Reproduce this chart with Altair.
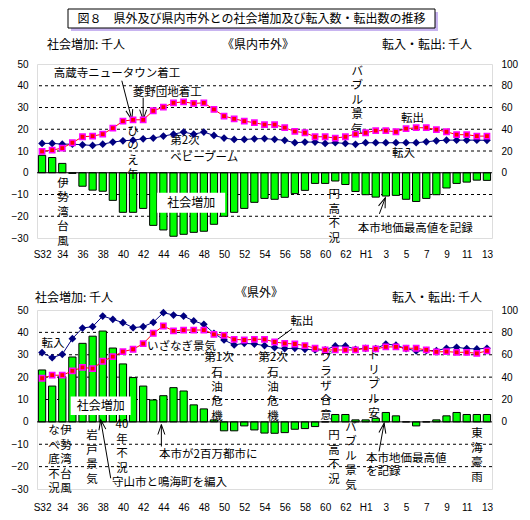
import altair as alt
import pandas as pd

FONT = "Noto Sans CJK JP"

# ---------------- data ----------------
year_labels = ["S32", "33", "34", "35", "36", "37", "38", "39", "40", "41", "42", "43", "44",
               "45", "46", "47", "48", "49", "50", "51", "52", "53", "54", "55", "56", "57",
               "58", "59", "60", "61", "62", "63", "H1", "2", "3", "4", "5", "6", "7", "8",
               "9", "10", "11", "12", "13"]

# 《県内市外》
pref_bar = [8.0, 7.0, 4.3, -0.3, -6.2, -8.0, -8.5, -12.7, -18.2, -18.2, -16.4, -24.2, -26.3,
            -29.2, -28.3, -27.4, -26.9, -23.7, -20.0, -18.2, -16.4, -13.6, -11.8, -12.2, -11.3,
            -9.6, -8.1, -4.9, -4.9, -3.8, -5.4, -8.6, -10.1, -11.2, -10.7, -10.4, -12.2, -13.2,
            -11.8, -10.1, -7.0, -4.9, -4.3, -3.4, -3.5]
pref_in = [27.0, 27.0, 26.3, 26.3, 25.7, 25.1, 26.3, 28.2, 29.4, 30.0, 31.2, 31.9, 33.7, 35.5,
           37.4, 35.5, 37.4, 34.3, 31.9, 30.6, 30.6, 31.2, 31.4, 30.7, 29.8, 27.6, 28.2, 28.2,
           27.0, 27.6, 27.0, 26.1, 27.6, 27.6, 27.6, 27.6, 27.6, 27.6, 28.5, 29.4, 30.0, 30.0,
           30.0, 30.0, 29.8]
pref_out = [19.6, 20.8, 22.7, 27.6, 33.1, 33.7, 35.5, 41.0, 47.5, 48.7, 48.7, 57.0, 60.3, 64.3,
            65.2, 63.7, 64.3, 58.2, 52.1, 49.6, 47.5, 46.0, 44.2, 44.2, 41.4, 38.0, 36.8, 33.1,
            33.1, 31.9, 33.1, 35.6, 36.8, 38.7, 38.7, 37.7, 40.5, 41.4, 41.4, 39.6, 37.7, 35.0,
            35.0, 33.7, 33.7]

# 《県外》
out_bar = [23.2, 16.0, 20.2, 29.0, 35.1, 38.3, 40.6, 33.0, 25.9, 19.8, 16.0, 9.8, 11.7, 15.3,
           13.8, 7.6, 5.8, 0.9, -4.0, -4.0, -1.8, -3.6, -5.0, -5.1, -4.8, -3.3, -3.0, -2.1, 0.0,
           3.3, 3.3, 0.9, 0.9, 1.6, 4.2, 2.7, 0.0, -1.8, 0.0, 0.9, 2.7, 4.2, 3.3, 3.3, 3.3]
out_in = [61.9, 57.4, 60.4, 74.4, 83.9, 85.1, 94.6, 91.7, 88.7, 84.2, 85.1, 89.0, 97.6, 95.5,
          94.6, 90.2, 87.2, 79.2, 73.2, 68.8, 70.2, 69.6, 68.2, 66.4, 65.5, 65.8, 64.9, 64.3,
          64.3, 67.9, 67.9, 64.9, 65.8, 65.5, 69.6, 68.5, 65.5, 63.4, 63.7, 63.7, 65.8, 66.7,
          65.5, 65.2, 65.8]
out_out = [39.0, 41.7, 41.7, 45.5, 48.8, 47.6, 54.2, 58.3, 62.8, 64.9, 69.9, 79.2, 85.7, 81.3,
           82.1, 82.1, 82.1, 78.3, 77.4, 73.8, 73.2, 73.8, 73.8, 71.4, 70.2, 69.6, 68.2, 65.8,
           64.3, 64.3, 64.3, 64.3, 65.8, 65.2, 67.0, 67.0, 65.8, 65.8, 64.3, 62.5, 62.8, 62.2,
           62.2, 61.3, 63.4]

grid_values = [-20, -10, 10, 20, 30, 40]

# annotations: (text, x in year index, y in 千人 of left axis)
top_center = [("高蔵寺ニュータウン着工", 7.42, 45.5), ("菱野団地着工", 12.37, 36.8),
              ("転出", 36.63, 24.8), ("転入", 35.74, 8.7), ("本市地価最高値を記録", 36.9, -25.7)]
top_left = [("第2次", 12.67, 14.7), ("ベビーブーム", 12.67, 6.9)]
top_vert = [(["ひ", "の", "え", "午"], 9.0, 21.6), (["伊", "勢", "湾", "台", "風"], 2.07, -2.2),
            (["バ", "ブ", "ル", "景", "気"], 31.18, 49.1), (["円", "高", "不", "況"], 28.9, -7.6)]
top_box = [("社会増加", 11.38, 18.11, -9.2, -18.4)]
top_lines = [(7.89, 42.3, 8.88, 24.4), (10.0, 34.5, 10.0, 24.4), (33.36, -18.9, 33.95, -11.5)]
top_heads = [(8.88, 24.4, 165.5), (10.0, 24.4, 180.0), (33.95, -11.5, 20.5)]

bot_center = [("転入", 1.08, 35.0), ("第1次", 17.5, 28.4), ("第2次", 22.84, 28.6),
              ("転出", 25.7, 44.8)]
bot_left = [("いざなぎ景気", 10.38, 33.6), ("守山市と鳴海町を編入", 6.92, -27.5),
            ("本市が2百万都市に", 11.57, -14.6), ("本市地価最高値", 32.04, -16.6),
            ("を記録", 32.04, -22.6)]
bot_vert = [(["石", "油", "危", "機"], 17.3, 24.4), (["石", "油", "危", "機"], 22.84, 24.4),
            (["な", "べ", "底", "不", "況"], 1.18, -1.4), (["伊", "勢", "湾", "台", "風"], 2.37, -1.4),
            (["岩", "戸", "景", "気"], 4.94, -3.7), (["40", "年", "不", "況"], 7.9, 1.1),
            (["プ", "ラ", "ザ", "合", "意"], 28.09, 31.3), (["円", "高", "不", "況"], 28.88, -3.7),
            (["バ", "ブ", "ル", "景", "気"], 30.56, 0.05), (["ト", "リ", "プ", "ル", "安"], 32.83, 32.0),
            (["東", "海", "豪", "雨"], 43.02, -2.9)]
bot_box = [("社会増加", 2.83, 8.77, 11.3, 3.1)]
bot_lines = [(6.79, -25.2, 5.8, 0.9), (11.8, -11.0, 11.8, -1.2), (33.33, -13.2, 33.83, -0.6),
             (24.72, 41.6, 23.24, 36.7)]
bot_heads = [(5.8, 0.9, 350.3), (11.8, -1.2, 0.0), (33.83, -0.6, 10.0)]

title_text = "図８　県外及び県内市外との社会増加及び転入数・転出数の推移"

# ---------------- scales / axes ----------------
xs = alt.Scale(domain=[-0.5, 44.5], nice=False, zero=False)
yL = alt.Scale(domain=[-30, 50], nice=False, zero=False)
yR = alt.Scale(domain=[-60, 100], nice=False, zero=False)
label_expr = "[" + ",".join("'%s'" % s for s in year_labels) + "][datum.value]"


def x_axis(pad):
    return alt.Axis(values=list(range(0, 45, 2)), labelExpr=label_expr, ticks=False, domain=False,
                    grid=False, labelPadding=pad, title=None, labelFlush=False)


left_axis = alt.Axis(values=list(range(-30, 51, 10)), ticks=False, domain=False, grid=False,
                     labelPadding=9, title=None, orient="left")
right_axis = alt.Axis(values=list(range(0, 101, 20)), ticks=False, domain=False, grid=False,
                      labelPadding=9, title=None, orient="right")


def build_panel(bar, inn, out, height, xpad, centers, lefts, verts, boxes, lines, heads, headers,
                with_title):
    XA = x_axis(xpad)

    def X(f):
        return alt.X(f, type="quantitative", scale=xs, axis=XA)

    def YL(f):
        return alt.Y(f, type="quantitative", scale=yL, axis=left_axis)

    def YR(f):
        return alt.Y(f, type="quantitative", scale=yR, axis=right_axis)

    df = pd.DataFrame({"i": list(range(len(year_labels))), "bar": bar, "inn": inn, "out": out})
    base = alt.Chart(df)

    grid = alt.Chart(pd.DataFrame({"g": grid_values})).mark_rule(
        color="black", strokeDash=[3, 3], strokeWidth=1).encode(y=YL("g"))
    bars = base.transform_calculate(x0="datum.i - 0.36", x1="datum.i + 0.36").mark_rect(
        color="#00FF00", stroke="black", strokeWidth=1).encode(
        x=X("x0"), x2="x1:Q", y=YL("bar"), y2=alt.datum(0))
    zero = alt.Chart(pd.DataFrame({"z": [0]})).mark_rule(color="black", strokeWidth=1).encode(
        y=YL("z"))

    bdf = pd.DataFrame(boxes, columns=["t", "x0", "x1", "y0", "y1"])
    bdf["xc"] = (bdf["x0"] + bdf["x1"]) / 2
    bdf["yc"] = (bdf["y0"] + bdf["y1"]) / 2
    box_rect = alt.Chart(bdf).mark_rect(color="white").encode(
        x=X("x0"), x2="x1:Q", y=YL("y0"), y2="y1:Q")
    box_text = alt.Chart(bdf).mark_text(font=FONT, fontSize=12, color="black").encode(
        x=X("xc"), y=YL("yc"), text="t:N")

    ldf = pd.DataFrame(lines, columns=["x0", "y0", "x1", "y1"])
    arrows = alt.Chart(ldf).mark_rule(color="black", strokeWidth=1).encode(
        x=X("x0"), y=YL("y0"), x2="x1:Q", y2="y1:Q")
    hdf = pd.DataFrame(heads, columns=["x", "y", "a"])
    heads_m = alt.Chart(hdf).mark_point(
        shape="M-0.35,1L0,0L0.35,1", filled=False, color="black", strokeWidth=1, size=400,
        opacity=1).encode(x=X("x"), y=YL("y"), angle=alt.Angle("a:Q", scale=None))

    cdf = pd.DataFrame(centers, columns=["t", "x", "y"])
    ctext = alt.Chart(cdf).mark_text(font=FONT, fontSize=11.5, color="black", align="center",
                                     baseline="middle").encode(x=X("x"), y=YL("y"), text="t:N")
    ldf2 = pd.DataFrame(lefts, columns=["t", "x", "y"])
    ltext = alt.Chart(ldf2).mark_text(font=FONT, fontSize=11.5, color="black", align="left",
                                      baseline="middle").encode(x=X("x"), y=YL("y"), text="t:N")
    vdf = pd.DataFrame([("\n".join(c), x, y) for c, x, y in verts], columns=["t", "x", "y"])
    vtext = alt.Chart(vdf).mark_text(font=FONT, fontSize=11.5, color="black", align="center",
                                     baseline="top", lineBreak="\n", lineHeight=14.5).encode(
        x=X("x"), y=YL("y"), text="t:N")

    hd = pd.DataFrame(headers, columns=["t", "px", "py", "al"])
    head_layers = []
    for al in ["left", "center", "right"]:
        sub = hd[hd["al"] == al]
        if len(sub):
            head_layers.append(alt.Chart(sub).mark_text(
                font=FONT, fontSize=12, color="black", align=al, baseline="middle").encode(
                x=alt.X("px:Q", scale=None), y=alt.Y("py:Q", scale=None), text="t:N"))

    extra = []
    if with_title:
        tdf = pd.DataFrame({"t": [title_text]})
        shadow = alt.Chart(tdf).mark_rect(color="#C8B4F0").encode(
            x=alt.value(34), x2=alt.value(401), y=alt.value(-52), y2=alt.value(-33))
        frame = alt.Chart(tdf).mark_rect(fill="white", stroke="black", strokeWidth=1).encode(
            x=alt.value(31), x2=alt.value(398), y=alt.value(-55), y2=alt.value(-36))
        ttext = alt.Chart(tdf).mark_text(font=FONT, fontSize=12, color="black",
                                         baseline="middle").encode(
            x=alt.value(214.5), y=alt.value(-45.5), text="t:N")
        extra = [shadow, frame, ttext]

    left_group = alt.layer(grid, bars, zero, box_rect, box_text, arrows, heads_m, ctext, ltext,
                           vtext, *head_layers, *extra)
    right_group = alt.layer(
        base.mark_line(color="#000080", strokeWidth=1).encode(x=X("i"), y=YR("inn")),
        base.mark_point(shape="diamond", filled=True, color="#000080", size=60, opacity=1).encode(
            x=X("i"), y=YR("inn")),
        base.mark_line(color="#FF0000", strokeWidth=1).encode(x=X("i"), y=YR("out")),
        base.mark_square(fill="#FF0000", stroke="#FF00FF", strokeWidth=1.5, size=28,
                         opacity=1).encode(x=X("i"), y=YR("out")),
    )
    return alt.layer(left_group, right_group).resolve_scale(y="independent").properties(
        width=455, height=height)


top_headers = [("社会増加: 千人", 10, -19, "left"), ("《県内市外》", 221, -19, "center"),
               ("転入・転出: 千人", 435, -19, "right")]
bot_headers = [("社会増加: 千人", -2, -11.6, "left"), ("《県外》", 222, -16.6, "center"),
               ("転入・転出: 千人", 445, -11.6, "right")]

top = build_panel(pref_bar, pref_in, pref_out, 174, 11, top_center, top_left, top_vert, top_box,
                  top_lines, top_heads, top_headers, True)
bottom = build_panel(out_bar, out_in, out_out, 179, 13, bot_center, bot_left, bot_vert, bot_box,
                     bot_lines, bot_heads, bot_headers, False)

chart = alt.vconcat(top, bottom, spacing=26).properties(
    padding={"left": 2, "top": 0, "right": 0, "bottom": 0}
).configure_view(stroke="black", strokeWidth=1).configure_axis(
    labelFont=FONT, labelFontSize=12, labelColor="black"
).configure(background="white")

chart.save("out.html", embed_options={"renderer": "svg", "actions": False})
